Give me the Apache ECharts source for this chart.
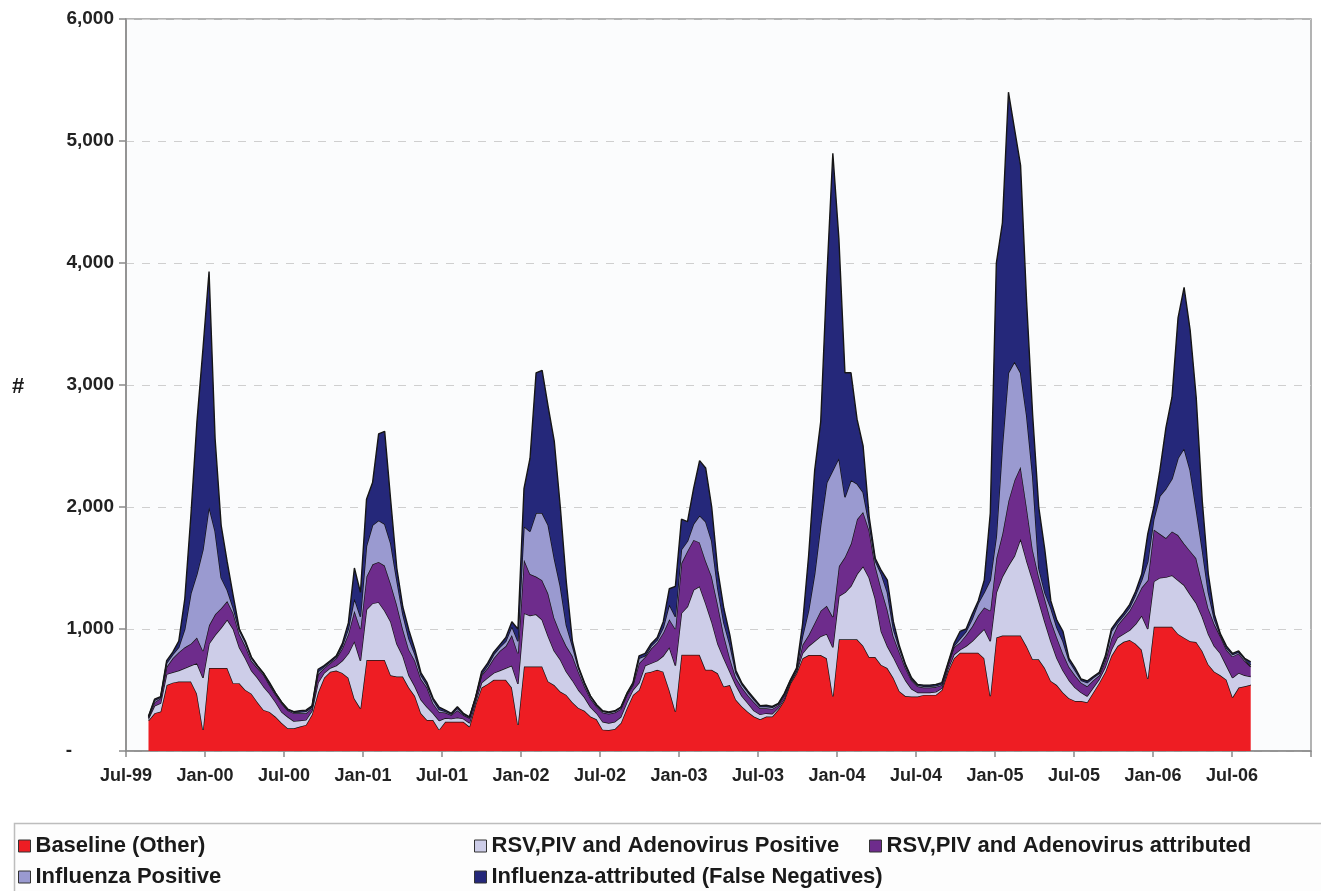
<!DOCTYPE html>
<html>
<head>
<meta charset="utf-8">
<script src="https://cdn.jsdelivr.net/npm/echarts@6/dist/echarts.min.js"></script>
<style>
html,body{margin:0;padding:0;background:#ffffff;}
#chart{width:1321px;height:891px;}
</style>
</head>
<body>
<div id="chart"></div>
<script>
// ---- tick labels ----
const xTickLabels = ['Jul-99','Jan-00','Jul-00','Jan-01','Jul-01','Jan-02','Jul-02','Jan-03','Jul-03','Jan-04','Jul-04','Jan-05','Jul-05','Jan-06','Jul-06',''];
const yTickLabels = ['-','1,000','2,000','3,000','4,000','5,000','6,000'];

// ---- series names ----
const seriesNames = [
  'Baseline (Other)',
  'RSV,PIV and Adenovirus Positive',
  'RSV,PIV and Adenovirus attributed',
  'Influenza Positive',
  'Influenza-attributed (False Negatives)'
];

// ---- time base: fortnightly readings starting 22 Aug 1999 ----
const firstReading = '1999-08-22';
const stepDays = 14;

// ---- series values (stack layers) ----
const baselineOther = [
  250,310,323,540,560,570,570,570,470,173,680,680,680,680,556,556,500,470,400,337,320,280,230,186,186,200,214,
  300,480,600,650,660,640,600,430,350,746,746,746,746,620,610,610,520,450,310,254,254,175,240,240,240,240,200,380,520,
  550,583,583,583,520,214,693,693,693,693,570,540,487,460,400,353,330,282,260,175,172,180,230,350,460,500,
  640,650,665,650,500,323,788,788,788,788,665,665,637,528,540,420,364,320,282,260,282,282,340,418,555,637,
  760,786,786,786,760,447,916,916,916,916,863,770,770,705,680,600,490,450,447,447,460,460,460,500,650,760,
  805,805,805,805,760,450,930,947,947,947,947,858,752,752,680,574,540,480,433,410,410,400,480,560,650,780,
  860,895,910,880,830,592,1018,1018,1018,1018,960,929,900,894,820,710,650,620,584,440,520,530,543
];
const rsvPositive = [
  15,60,69,90,85,90,110,130,250,427,200,270,330,397,444,294,260,190,200,192,150,120,90,94,59,50,41,
  30,80,40,30,40,100,200,470,390,414,464,474,404,440,270,170,100,80,110,106,56,75,30,25,35,25,30,20,40,
  50,57,77,97,180,336,437,417,427,383,370,280,263,190,180,147,110,78,50,65,58,60,50,50,40,60,
  60,70,75,130,350,377,342,396,532,562,545,395,243,232,110,120,86,70,48,40,28,23,15,12,10,13,
  40,74,114,154,200,403,354,384,437,534,651,650,480,275,180,170,180,130,63,33,20,20,25,15,20,30,
  25,55,95,145,240,450,370,483,573,653,793,702,648,478,380,326,220,180,147,110,70,50,40,30,40,50,
  70,65,80,160,280,408,372,402,407,422,440,431,384,319,280,250,210,180,116,160,120,90,68
];
const rsvAttributed = [
  10,30,41,60,115,150,170,180,210,220,150,170,160,153,130,110,100,80,80,96,70,60,70,54,65,60,55,
  20,70,40,40,60,100,160,250,260,270,320,330,370,310,320,220,210,210,170,160,80,70,45,30,60,30,40,30,60,
  80,120,160,180,250,250,440,340,310,324,350,270,216,210,200,150,90,70,55,75,75,75,65,60,40,160,
  70,120,150,190,230,300,410,456,410,360,350,370,320,190,110,60,70,65,70,50,40,40,20,25,5,10,
  70,90,150,210,230,250,244,290,347,450,446,390,270,350,300,170,140,100,70,50,40,40,40,25,30,60,
  60,90,120,160,177,250,280,350,530,620,590,440,250,200,190,170,170,140,110,100,80,80,60,30,50,90,
  100,130,160,200,230,400,426,360,320,360,370,340,356,367,270,210,180,140,130,175,160,120,79
];
const influenzaPositive = [
  5,15,7,30,30,40,150,410,520,830,970,680,250,90,40,30,30,20,15,10,10,10,8,5,8,10,15,
  10,20,10,10,10,20,40,100,100,250,320,340,340,330,200,120,90,50,30,20,30,20,10,7,15,7,5,5,10,
  20,30,30,40,70,100,270,350,520,550,560,490,384,170,80,30,20,15,10,10,10,10,10,8,10,40,
  10,20,20,40,120,100,110,80,130,220,320,290,130,100,110,40,25,25,20,15,15,13,10,10,8,10,
  70,200,400,700,1010,1200,886,490,520,290,160,50,40,120,140,60,30,20,10,10,10,10,10,10,10,10,
  30,30,60,100,123,250,180,720,1050,970,770,750,600,70,50,100,80,100,50,40,20,30,20,15,20,60,
  20,20,25,40,60,150,84,310,405,430,630,780,660,400,280,130,40,10,15,15,10,15,15
];
const influenzaAttributed = [
  5,10,6,20,20,50,250,640,1250,1650,1930,760,430,230,100,10,10,10,5,3,10,5,2,5,5,10,10,
  10,20,10,10,10,20,50,250,200,383,350,710,760,350,100,60,70,40,20,20,12,20,11,7,13,7,5,5,20,
  20,20,20,30,40,100,310,600,1150,1170,970,960,650,350,40,10,10,5,5,5,5,5,5,6,10,20,
  20,20,20,50,130,250,250,160,290,450,440,280,150,120,80,20,10,10,10,7,10,7,5,8,5,10,
  100,450,850,850,1677,2600,1800,1020,880,530,380,60,20,30,100,60,20,10,10,5,10,10,10,10,10,20,
  60,20,40,20,100,550,2240,1830,2300,1910,1700,930,500,500,350,60,61,80,20,21,10,14,10,10,20,20,
  20,20,25,30,50,230,100,210,500,670,1150,1320,1150,920,400,150,40,10,15,10,10,5,25
];

const seriesValues = [baselineOther, rsvPositive, rsvAttributed, influenzaPositive, influenzaAttributed];
const seriesColors = ['#EE1D23', '#CDCDE8', '#6E2C8C', '#9A9AD0', '#25287A'];

seriesValues.forEach((a, i) => {
  if (a.length !== baselineOther.length) console.error('length mismatch', seriesNames[i], a.length, baselineOther.length);
});

// x position: months elapsed since 1 Jul 1999 (axis runs Jul-99 .. Jan-07)
const DAY = 86400000;
const axisOrigin = Date.UTC(1999, 6, 1);
const startMs = Date.parse(firstReading + 'T00:00:00Z');
const monthsAt = baselineOther.map((_, i) => ((startMs + i * stepDays * DAY) - axisOrigin) / DAY / 30.4375);

const FONT = '"Liberation Sans", Arial, Helvetica, sans-serif';

const series = seriesNames.map((name, s) => ({
  name: name,
  type: 'line',
  stack: 'total',
  symbol: 'none',
  smooth: false,
  silent: true,
  animation: false,
  encode: { x: 1, y: 0 },
  data: seriesValues[s].map((v, i) => [v, monthsAt[i]]),
  lineStyle: { color: '#161616', width: 1.4 },
  itemStyle: { color: seriesColors[s] },
  areaStyle: { color: seriesColors[s], opacity: 1 },
  emphasis: { disabled: true },
  z: 2 + s
}));

const legendBase = {
  orient: 'horizontal',
  padding: 0,
  itemWidth: 12,
  itemHeight: 12,
  icon: 'rect',
  selectedMode: false,
  z: 10,
  itemStyle: { borderColor: '#333333', borderWidth: 1 },
  textStyle: { fontFamily: FONT, fontWeight: 'bold', fontSize: 22, color: '#1a1a1a' }
};
const legendPos = [[18, 835], [474, 835], [869, 835], [18, 866], [474, 866]];
const legends = seriesNames.map((name, s) => Object.assign({}, legendBase, {
  left: legendPos[s][0],
  top: legendPos[s][1],
  data: [{ name: name, itemStyle: { color: seriesColors[s], borderColor: '#333333', borderWidth: 1 } }]
}));

const chart = echarts.init(document.getElementById('chart'), null, { renderer: 'canvas' });
chart.setOption({
  animation: false,
  backgroundColor: '#ffffff',
  grid: {
    left: 126, right: 10, top: 19, bottom: 140,
    show: true, backgroundColor: '#FBFCFD', borderColor: '#9a9a9a', borderWidth: 1.5
  },
  xAxis: {
    type: 'value', min: 0, max: 90, interval: 6,
    axisLine: { show: true, lineStyle: { color: '#8a8a8a', width: 1.5 } },
    axisTick: { show: true, length: 6, lineStyle: { color: '#8a8a8a', width: 1.5 } },
    axisLabel: {
      formatter: v => xTickLabels[Math.round(v / 6)] || '',
      fontFamily: FONT, fontWeight: 'bold', fontSize: 18, color: '#222222', margin: 16
    },
    splitLine: { show: false }
  },
  yAxis: {
    type: 'value', min: 0, max: 6000, interval: 1000,
    axisLine: { show: true, lineStyle: { color: '#8a8a8a', width: 1.5 } },
    axisTick: { show: true, length: 7, lineStyle: { color: '#8a8a8a', width: 1.5 } },
    axisLabel: {
      formatter: v => { const t = yTickLabels[Math.round(v / 1000)]; return v === 0 ? '{d|' + t + '}' : t; },
      fontFamily: FONT, fontWeight: 'bold', fontSize: 19, color: '#222222', margin: 12,
      rich: { d: { fontFamily: FONT, fontWeight: 'bold', fontSize: 19, color: '#222222', padding: [0, 42, 0, 0] } }
    },
    splitLine: { show: true, lineStyle: { color: '#cfcfcf', width: 1, type: [8, 8] } }
  },
  legend: legends,
  graphic: [
    { type: 'rect', z: 0, silent: true,
      shape: { x: 14.5, y: 823.5, width: 1400, height: 200 },
      style: { fill: '#FDFDFD', stroke: '#bdbdbd', lineWidth: 1.5 } },
    { type: 'text', left: 12, top: 376, z: 5, silent: true,
      style: { text: '#', font: 'bold 22px ' + FONT, fill: '#1a1a1a' } }
  ],
  series: series
});
</script>
</body>
</html>
